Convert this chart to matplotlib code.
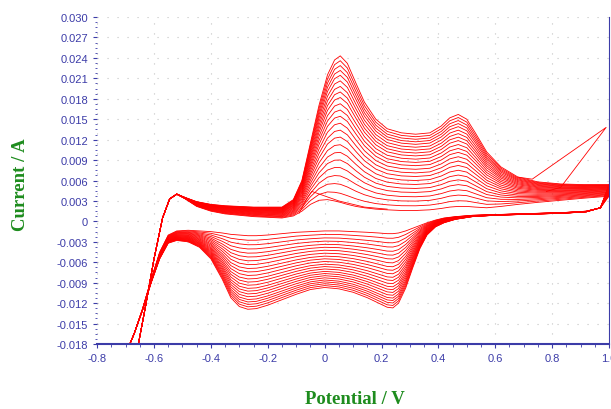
import matplotlib
matplotlib.use("Agg")
import matplotlib.pyplot as plt
import numpy as np
from matplotlib.ticker import FixedLocator, AutoMinorLocator

# forward (anodic) sweep: potential grid and currents of the innermost / outermost cycle
fwd_v = [-0.655, -0.63, -0.60, -0.57, -0.545, -0.52, -0.49, -0.45, -0.40, -0.35,
         -0.30, -0.25, -0.20, -0.15, -0.11, -0.08, -0.05, -0.02, 0.01, 0.035,
         0.055, 0.08, 0.11, 0.14, 0.18, 0.22, 0.27, 0.32, 0.37, 0.41,
         0.44, 0.47, 0.50, 0.53, 0.57, 0.62, 0.68, 0.75, 0.83, 0.91, 1.0]
fwd_outer = [-0.018, -0.0125, -0.0055, 0.0005, 0.0033, 0.0040, 0.0035, 0.0029, 0.0025, 0.0023,
             0.0022, 0.0021, 0.0021, 0.0021, 0.0032, 0.0060, 0.0115, 0.0170, 0.0215, 0.0237,
             0.0243, 0.0232, 0.0203, 0.0175, 0.0150, 0.0136, 0.0130, 0.0128, 0.0130, 0.0140,
             0.0152, 0.0157, 0.0150, 0.0130, 0.0102, 0.0080, 0.0065, 0.0058, 0.0055, 0.0054, 0.0054]
fwd_inner = [-0.018, -0.0125, -0.0055, 0.0005, 0.0033, 0.0040, 0.0033, 0.0022, 0.0015, 0.0011,
             0.0009, 0.0007, 0.0006, 0.0005, 0.0008, 0.0015, 0.0025, 0.0031, 0.0032, 0.0030,
             0.0028, 0.0025, 0.0022, 0.0020, 0.0018, 0.0017, 0.0016, 0.0016, 0.0017, 0.0019,
             0.0021, 0.0022, 0.0022, 0.0021, 0.0020, 0.0022, 0.0025, 0.0028, 0.0031, 0.0034, 0.0037]

# reverse (cathodic) sweep
rev_v = [1.0, 0.97, 0.92, 0.84, 0.76, 0.68, 0.60, 0.52, 0.46, 0.42,
         0.39, 0.36, 0.335, 0.31, 0.285, 0.26, 0.24, 0.22, 0.19, 0.15,
         0.10, 0.05, 0.0, -0.05, -0.10, -0.15, -0.20, -0.24, -0.27, -0.30,
         -0.33, -0.36, -0.40, -0.44, -0.48, -0.52, -0.55, -0.58, -0.61, -0.64,
         -0.67, -0.685]
rev_outer = [0.0054, 0.0020, 0.0014, 0.0012, 0.0011, 0.0010, 0.0009, 0.0007, 0.0003, -0.0002,
             -0.0008, -0.0020, -0.0040, -0.0068, -0.0098, -0.0120, -0.0127, -0.0126, -0.0120, -0.0112,
             -0.0104, -0.0099, -0.0097, -0.0100, -0.0107, -0.0115, -0.0123, -0.0128, -0.0129, -0.0125,
             -0.0112, -0.0085, -0.0055, -0.0038, -0.0030, -0.0028, -0.0032, -0.0055, -0.0090, -0.0130,
             -0.0165, -0.018]
rev_inner = [0.0037, 0.0020, 0.0015, 0.0013, 0.0012, 0.0011, 0.0010, 0.0009, 0.0007, 0.0005,
             0.0002, -0.0002, -0.0006, -0.0010, -0.0014, -0.0017, -0.0018, -0.0018, -0.0017, -0.0016,
             -0.0015, -0.0014, -0.0014, -0.0015, -0.0016, -0.0018, -0.0020, -0.0021, -0.0021, -0.0020,
             -0.0019, -0.0017, -0.0015, -0.0014, -0.0013, -0.0014, -0.0020, -0.0045, -0.0085, -0.0128,
             -0.0165, -0.018]

# anodic peak current (~0.05 V) of each cycle
peak_a1 = [0.0032, 0.0045, 0.0058, 0.0070, 0.0082, 0.0093, 0.0104, 0.0115, 0.0126, 0.0136,
           0.0146, 0.0156, 0.0165, 0.0174, 0.0183, 0.0191, 0.0199, 0.0207, 0.0215, 0.0222,
           0.0229, 0.0236, 0.0243]

# first scan: early small peak and the spike towards 1.0 V
first_v = [-0.09, -0.06, -0.045, 0.05, 0.14, 0.22]
first_i = [0.0012, 0.0035, 0.0044, 0.0030, 0.0021, 0.0018]
spike_v = [0.68, 0.73, 0.99, 0.83, 0.78]
spike_i = [0.0065, 0.0062, 0.0138, 0.0050, 0.0044]

xticks = [-0.8, -0.6, -0.4, -0.2, 0.0, 0.2, 0.4, 0.6, 0.8, 1.0]
xlabels = ["-0.8", "-0.6", "-0.4", "-0.2", "0", "0.2", "0.4", "0.6", "0.8", "1.0"]
yticks = [-0.018, -0.015, -0.012, -0.009, -0.006, -0.003, 0.0, 0.003, 0.006, 0.009,
          0.012, 0.015, 0.018, 0.021, 0.024, 0.027, 0.030]
ylabels = ["-0.018", "-0.015", "-0.012", "-0.009", "-0.006", "-0.003", "0", "0.003", "0.006",
           "0.009", "0.012", "0.015", "0.018", "0.021", "0.024", "0.027", "0.030"]

blue = "#3c3ca8"
green = "#1e8c1e"

fig = plt.figure(figsize=(6.11, 4.10), dpi=100)
ax = fig.add_axes([0.159, 0.1585, 0.8377, 0.7975])

fo, fi = np.array(fwd_outer), np.array(fwd_inner)
ro, ri = np.array(rev_outer), np.array(rev_inner)
for p in peak_a1:
    w = (p - peak_a1[0]) / (peak_a1[-1] - peak_a1[0])
    ax.plot(fwd_v, fi + w * (fo - fi), color="red", lw=0.6)
    ax.plot(rev_v, ri + w * (ro - ri), color="red", lw=0.6)
ax.plot(first_v, first_i, color="red", lw=0.6)
ax.plot(spike_v, spike_i, color="red", lw=0.6)

ax.set_xlim(-0.8, 1.0)
ax.set_ylim(-0.018, 0.030)
ax.xaxis.set_major_locator(FixedLocator(xticks))
ax.set_xticklabels(xlabels)
ax.yaxis.set_major_locator(FixedLocator(yticks))
ax.set_yticklabels(ylabels)
ax.xaxis.set_minor_locator(AutoMinorLocator(4))
ax.yaxis.set_minor_locator(AutoMinorLocator(4))

ax.tick_params(axis="both", which="major", colors=blue, labelsize=8, length=3, width=0.8)
ax.tick_params(axis="both", which="minor", colors=blue, length=1.8, width=0.6)
for lab in ax.get_xticklabels() + ax.get_yticklabels():
    lab.set_fontfamily("Liberation Sans")

ax.spines["top"].set_visible(False)
ax.spines["left"].set_visible(False)
ax.spines["bottom"].set_color(blue)
ax.spines["bottom"].set_linewidth(1.5)
ax.spines["right"].set_color(blue)
ax.spines["right"].set_linewidth(0.8)

ax.grid(True, which="major", color="#c4c4c4", linestyle=(0, (1, 8)), linewidth=0.8)

fig.text(0.034, 0.549, "Current / A", rotation=90, color=green, fontsize=13.5,
         fontweight="bold", family="Liberation Serif", ha="center", va="center")
fig.text(0.581, 0.026, "Potential / V", color=green, fontsize=13.5,
         fontweight="bold", family="Liberation Serif", ha="center", va="center")

fig.savefig("out.png", dpi=100)
